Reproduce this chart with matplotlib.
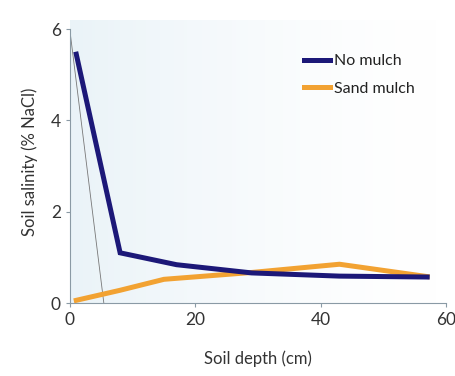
import numpy as np
import matplotlib
matplotlib.use("Agg")
import matplotlib.pyplot as plt

plt.rcParams['font.family'] = ['Lato', 'DejaVu Sans']

depth = [1, 8, 17, 29, 43, 57]
no_mulch = [5.45, 1.1, 0.84, 0.66, 0.59, 0.57]
depth_sand = [1, 8, 15, 29, 43, 57]
sand_mulch = [0.06, 0.28, 0.52, 0.67, 0.85, 0.58]

fig = plt.figure(figsize=(4.56, 3.76), dpi=100)
ax = fig.add_axes([0.1535, 0.194, 0.8245, 0.753])

# faint blue wash on the left side of the plot area
grad = np.linspace(1, 0, 256) ** 1.5
grad = grad.reshape(1, -1)
cmap = matplotlib.colors.LinearSegmentedColormap.from_list('wash', ['#ffffff', '#eaf3f8'])
ax.imshow(grad, extent=[0, 60, 0, 6.2], aspect='auto', cmap=cmap, zorder=0)

# thin stray guide line in the original
ax.plot([0, 5.4], [5.95, 0], color='#777777', lw=0.6, zorder=1)

ax.plot(depth, no_mulch, color='#1c1878', lw=3.6, label='No mulch',
        solid_joinstyle='miter', zorder=3)
ax.plot(depth_sand, sand_mulch, color='#f2a232', lw=3.6, label='Sand mulch',
        solid_joinstyle='miter', zorder=2)

ax.set_xlim(0, 60)
ax.set_ylim(0, 6.2)
ax.set_xticks([0, 20, 40, 60])
ax.set_yticks([0, 2, 4, 6])
for s in ['top', 'right']:
    ax.spines[s].set_visible(False)
for s in ['left', 'bottom']:
    ax.spines[s].set_color('#8a9aa5')
    ax.spines[s].set_linewidth(0.8)
ax.tick_params(colors='#8a9aa5', labelcolor='#333333', labelsize=12.5, length=3, width=0.8)
ax.spines['left'].set_bounds(0, 6)

ax.set_xlabel('Soil depth (cm)', fontsize=12, color='#333333', labelpad=16)
ax.set_ylabel('Soil salinity (% NaCl)', fontsize=12, color='#333333', labelpad=9)

ax.legend(loc='upper left', bbox_to_anchor=(0.585, 0.93), frameon=False, fontsize=11.5,
          handlelength=1.6, handletextpad=0.25, labelspacing=0.85, labelcolor='#222222')

fig.savefig('out.png', dpi=100)
